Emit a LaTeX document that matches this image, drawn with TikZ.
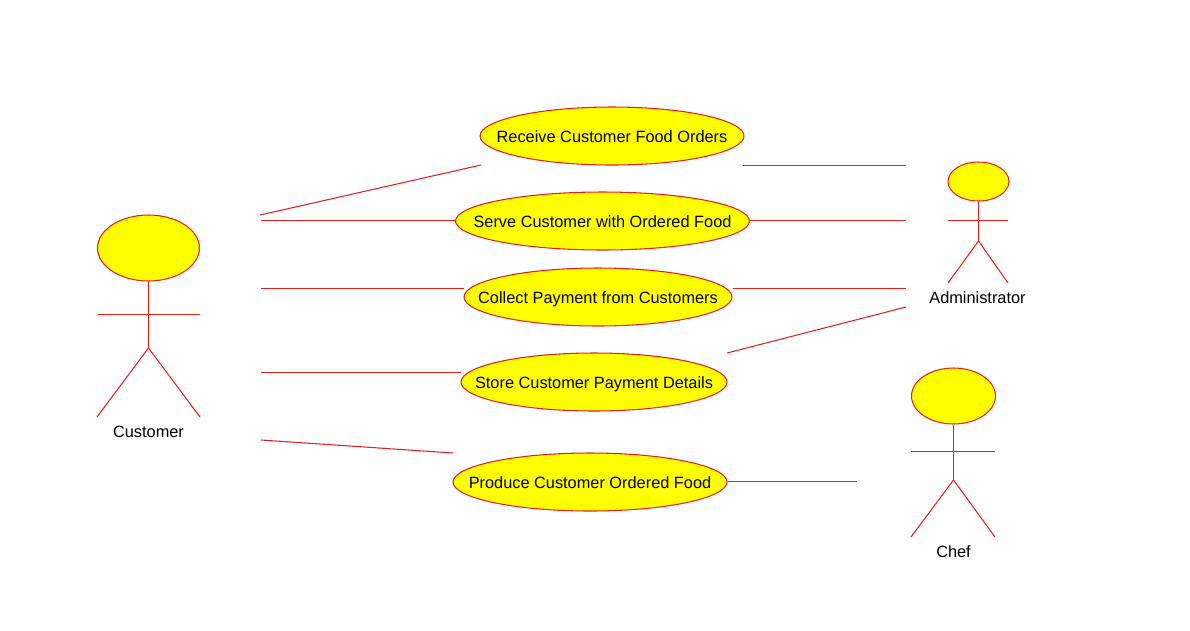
\documentclass[tikz,border=0pt]{standalone}
\usepackage{fontspec}
\setmainfont{Liberation Sans}
\usepackage{xcolor}
\usetikzlibrary{shapes.geometric}
\definecolor{umlred}{RGB}{235,30,30}
\definecolor{umlyellow}{RGB}{255,255,0}
\newcommand{\uclabel}[1]{\makebox[0pt][c]{#1}}

\begin{document}
\begin{tikzpicture}[
  x=0.02cm, y=-0.02cm,
  font=\fontsize{9.3pt}{11pt}\selectfont,
  usecase/.style={draw=umlred, line width=0.6pt, fill=umlyellow, ellipse, inner sep=0pt, minimum height=1.16cm, text height=1.8ex, text depth=0.45ex},
  head/.style={draw=umlred, line width=0.6pt, fill=umlyellow, ellipse, inner sep=0pt},
  limb/.style={draw=umlred, line width=0.6pt},
  assoc/.style={draw=umlred, line width=0.6pt},
  actorname/.style={inner sep=0pt},
]
\useasboundingbox (0,0) rectangle (1190,630);

% use cases
\node[usecase, minimum width=5.28cm] (receive) at (612,136) {\uclabel{Receive Customer Food Orders}};
\node[usecase, minimum width=5.88cm] (serve) at (602.5,221) {\uclabel{Serve Customer with Ordered Food}};
\node[usecase, minimum width=5.36cm] (collect) at (598,297) {\uclabel{Collect Payment from Customers}};
\node[usecase, minimum width=5.32cm] (store) at (594,382) {\uclabel{Store Customer Payment Details}};
\node[usecase, minimum width=5.48cm] (produce) at (590,482) {\uclabel{Produce Customer Ordered Food}};

% customer
\node[head, minimum width=2.04cm, minimum height=1.32cm] (custhead) at (148.5,248) {};
\coordinate (custhip) at (148.5,348);
\coordinate (custarml) at (97.5,314.5);
\coordinate (custarmr) at (199.5,314.5);
\coordinate (custfootl) at (97,417);
\coordinate (custfootr) at (200,417);
\draw[limb] (custhead.south) -- (custhip);
\draw[limb] (custarml) -- (custarmr);
\draw[limb] (custfootl) -- (custhip) -- (custfootr);
\node[actorname] (custname) at (148.5,431.5) {Customer};

% administrator
\node[head, minimum width=1.22cm, minimum height=0.78cm] (adminhead) at (978.5,181.5) {};
\coordinate (adminhip) at (978.5,241);
\coordinate (adminarml) at (948,220.5);
\coordinate (adminarmr) at (1008,220.5);
\coordinate (adminfootl) at (948,283);
\coordinate (adminfootr) at (1008,283);
\draw[limb] (adminhead.south) -- (adminhip);
\draw[limb] (adminarml) -- (adminarmr);
\draw[limb] (adminfootl) -- (adminhip) -- (adminfootr);
\node[actorname] (adminname) at (977.5,297.5) {Administrator};

% chef
\node[head, minimum width=1.68cm, minimum height=1.12cm] (chefhead) at (953.5,396) {};
\coordinate (chefhip) at (953.5,480);
\coordinate (chefarml) at (911,451.5);
\coordinate (chefarmr) at (995,451.5);
\coordinate (cheffootl) at (911,537);
\coordinate (cheffootr) at (995,537);
\draw[limb] (chefhead.south) -- (chefhip);
\draw[limb] (chefarml) -- (chefarmr);
\draw[limb] (cheffootl) -- (chefhip) -- (cheffootr);
\node[actorname] (chefname) at (953.5,551.5) {Chef};

% free ends, the lines stop short of the actors
\coordinate (c1) at (260,215);
\coordinate (c2) at (261,220.5);
\coordinate (c3) at (261,288.5);
\coordinate (c4) at (261,372.5);
\coordinate (c5) at (261,440);
\coordinate (a1) at (906,165.5);
\coordinate (a2) at (906,220.5);
\coordinate (a3) at (906,288.5);
\coordinate (a4) at (906,307);
\coordinate (h1) at (857,481.5);
\coordinate (r1) at (481,165);
\coordinate (r2) at (743,165.5);
\coordinate (s1) at (727,353);
\coordinate (p1) at (453,453);

\draw[assoc] (c1) -- (r1);
\draw[assoc] (c2) -- (c2 -| serve.west);
\draw[assoc] (c3) -- (c3 -| collect.west);
\draw[assoc] (c4) -- (c4 -| store.west);
\draw[assoc] (c5) -- (p1);
\draw[assoc] (r2) -- (a1);
\draw[assoc] (a2 -| serve.east) -- (a2);
\draw[assoc] (a3 -| collect.east) -- (a3);
\draw[assoc] (s1) -- (a4);
\draw[assoc] (h1 -| produce.east) -- (h1);
\end{tikzpicture}
\end{document}
